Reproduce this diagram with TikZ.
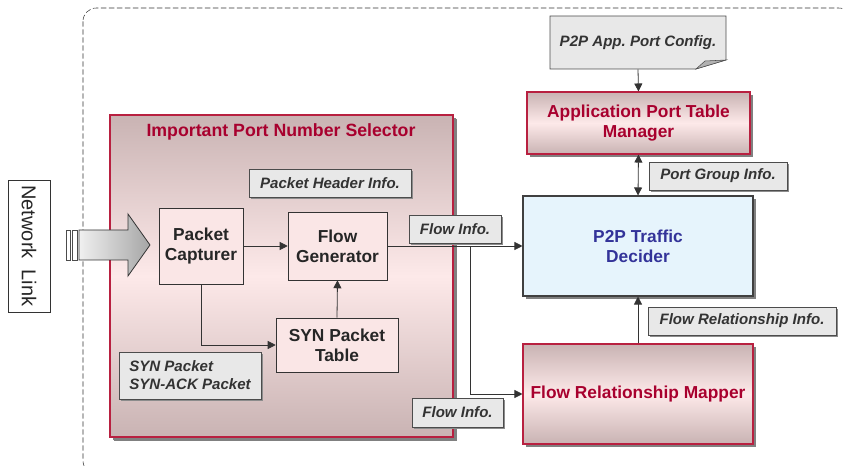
\documentclass[tikz,border=0pt]{standalone}
\usepackage{fontspec}
\setmainfont{Liberation Sans}
\usetikzlibrary{shadows,arrows.meta}
\frenchspacing

\definecolor{selred}{HTML}{A8002E}
\definecolor{boxred}{HTML}{B82040}
\definecolor{rosetop}{HTML}{C9B3B3}
\definecolor{rosemid}{HTML}{FDE9E9}
\definecolor{innerpink}{HTML}{FAE6E6}
\definecolor{labelgray}{HTML}{E8E8E8}
\definecolor{labeltext}{HTML}{333333}
\definecolor{decblue}{HTML}{E6F4FC}
\definecolor{dectext}{HTML}{333399}

\tikzset{
  redbox/.style={draw=boxred, line width=0.8pt, top color=rosetop, bottom color=rosetop,
    middle color=rosemid, text=selred, align=center,
    font=\fontsize{13}{15}\selectfont\bfseries,
    drop shadow={shadow xshift=2.5pt, shadow yshift=-2.5pt, fill=black!50, opacity=1}},
  innerbox/.style={draw=black!80, fill=innerpink, text=black!85, align=center,
    font=\fontsize{13}{15}\selectfont\bfseries},
  infolbl/.style={draw=black!70, fill=labelgray, text=labeltext, align=left,
    font=\fontsize{11.3}{13.5}\selectfont\bfseries\itshape,
    drop shadow={shadow xshift=1.5pt, shadow yshift=-1.5pt, fill=black!45, opacity=1}},
  conn/.style={draw=black!80, line width=0.6pt, -{Triangle[length=6pt,width=6pt]}}
}

\begin{document}
\begin{tikzpicture}[x=0.75pt,y=-0.75pt]
\useasboundingbox (0,0) rectangle (843,466);

% system boundary
\draw [black!80, dash pattern=on 4pt off 2pt, rounded corners=10pt] (83,8) rectangle (852,474);

% network link
\node [draw=black!80, fill=white, rotate=-90, minimum width=99pt, minimum height=31.5pt,
  font=\fontsize{15}{17}\selectfont, text=black!85] (net) at (29,246) {Network\ \ Link};

% important port number selector
\node [redbox, minimum width=257.25pt, minimum height=241.5pt,
  drop shadow={shadow xshift=3pt, shadow yshift=-3pt, fill=black!50, opacity=1}] (sel) at (281.5,276) {};
\node [text=selred, font=\fontsize{13.3}{15}\selectfont\bfseries] (seltitle) at (281,132) {Important Port Number Selector};

% incoming traffic
\node [draw=black!70, fill=white, minimum width=3pt, minimum height=22.5pt, inner sep=0pt] (bar1) at (68,245) {};
\node [draw=black!70, fill=white, minimum width=3.75pt, minimum height=22.5pt, inner sep=0pt] (bar2) at (74.5,245) {};
\shade [draw=black!80, line width=0.6pt, left color=white!88!gray, right color=gray!70]
  (79,230) -- (128,230) -- (128,214) -- (150,245) -- (128,276) -- (128,260) -- (79,260) -- cycle;

\node [infolbl, minimum width=121.5pt, minimum height=21pt] (hdr) at (330,183) {Packet Header Info.};
\node [innerbox, minimum width=63pt, minimum height=57pt] (cap) at (201,246) {Packet\\Capturer};
\node [innerbox, minimum width=74.25pt, minimum height=51pt] (gen) at (337.5,246) {Flow\\Generator};
\node [innerbox, minimum width=91.5pt, minimum height=40.5pt] (syn) at (337,345) {SYN Packet\\Table};
\node [infolbl, minimum width=106.5pt, minimum height=35.25pt] (synlbl) at (190,375.5) {SYN Packet\\SYN-ACK Packet};

% right hand blocks
\node [draw=black!75, line width=0.8pt, fill=decblue, text=dectext, align=center,
  font=\fontsize{13}{15}\selectfont\bfseries, minimum width=172.5pt, minimum height=75pt,
  drop shadow={shadow xshift=2.5pt, shadow yshift=-2.5pt, fill=black!50, opacity=1}] (dec) at (638,246) {P2P Traffic\\Decider};
\node [redbox, minimum width=172.5pt, minimum height=75pt] (mapper) at (638,394) {Flow Relationship Mapper};
\node [redbox, minimum width=167.25pt, minimum height=46.5pt] (mgr) at (638.5,123) {Application Port Table\\Manager};

% config note with folded corner
\filldraw [draw=black!70, fill=labelgray] (550,16) -- (726,16) -- (726,60) -- (696,69) -- (550,69) -- cycle;
\filldraw [draw=black!70, fill=black!30] (696,69) -- (705,61) -- (726,60) -- cycle;
\node [minimum width=132pt, minimum height=39.75pt, text=labeltext,
  font=\fontsize{11.3}{13.5}\selectfont\bfseries\itshape] (cfg) at (638,42.5) {P2P App. Port Config.};

% connectors
\coordinate (br) at (470,246);
\draw [conn] (cap) -- (gen);
\draw [conn] (cap.south) |- (syn.west);
\draw [conn] (syn.north) -- (gen.south);
\draw [conn] (gen.east) -- (dec.west);
\draw [conn] (br) |- (mapper.west);
\draw [conn] (mapper.north) -- (dec.south);
\draw [conn] (cfg.south) -- (mgr.north);
\draw [conn, {Triangle[length=6pt,width=6pt]}-{Triangle[length=6pt,width=6pt]}] (mgr.south) -- (dec.north);

% flow labels
\node [infolbl, minimum width=69pt, minimum height=21pt] (finfo1) at (455,229) {Flow Info.};
\node [infolbl, minimum width=68.25pt, minimum height=21.75pt] (finfo2) at (457.5,412.5) {Flow Info.};
\node [infolbl, minimum width=141pt, minimum height=21pt] (frinfo) at (742,321) {Flow Relationship Info.};
\node [infolbl, minimum width=103.5pt, minimum height=21pt] (pginfo) at (718,176) {Port Group Info.};
\end{tikzpicture}
\end{document}
